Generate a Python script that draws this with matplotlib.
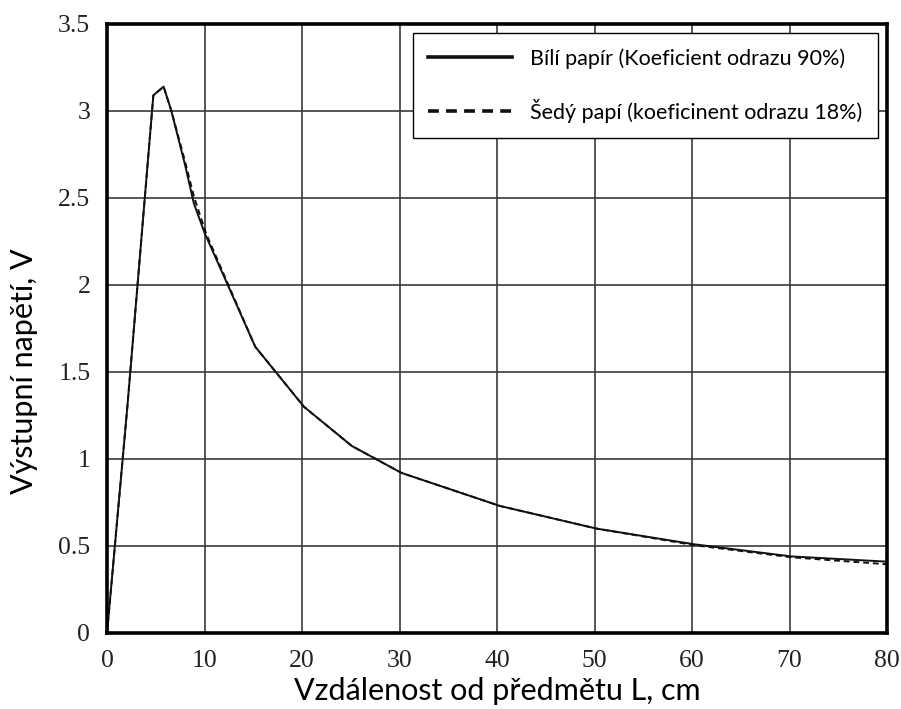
import matplotlib
import matplotlib.pyplot as plt

matplotlib.use("Agg")

# Reflective sensor output voltage vs. distance to the object
DIST_WHITE = [0, 2.1, 4.75, 5.8, 6.6, 8.0, 8.9, 10, 15.2, 20.2, 25.1, 30.2, 40.3, 50.2, 60.2, 70.2, 80]
VOLT_WHITE = [0.0, 1.31, 3.09, 3.14, 3.0, 2.69, 2.47, 2.30, 1.645, 1.30, 1.075, 0.92, 0.73, 0.60, 0.51, 0.44, 0.41]

DIST_GREY = [0, 2.1, 4.75, 5.8, 6.6, 8.0, 8.9, 9.6, 10.2, 15.2, 20.2, 25.1, 30.2, 40.3, 50.2, 60.2, 70.2, 80]
VOLT_GREY = [0.0, 1.31, 3.09, 3.14, 3.0, 2.71, 2.51, 2.39, 2.29, 1.645, 1.30, 1.075, 0.92, 0.73, 0.60, 0.505, 0.435, 0.395]

LABEL_WHITE = "Bílí papír (Koeficient odrazu 90%)"
LABEL_GREY = "Šedý papí (koeficinent odrazu 18%)"

X_TICKS = [0, 10, 20, 30, 40, 50, 60, 70, 80]
Y_TICKS = [0, 0.5, 1, 1.5, 2, 2.5, 3, 3.5]
Y_TICK_LABELS = ["0", "0.5", "1", "1.5", "2", "2.5", "3", "3.5"]

SANS = ["Lato", "DejaVu Sans"]
SERIF = ["Liberation Serif", "DejaVu Serif"]

fig = plt.figure(figsize=(9.01, 7.09), dpi=100)
ax = fig.add_axes([0.1188, 0.1072, 0.8657, 0.8590])

ax.plot(DIST_WHITE, VOLT_WHITE, color="#111111", lw=1.4, label=LABEL_WHITE)
ax.plot(DIST_GREY, VOLT_GREY, color="#111111", lw=1.4, ls=(0, (3, 2)), label=LABEL_GREY)

ax.set_xlim(0, 80)
ax.set_ylim(0, 3.5)
ax.set_xticks(X_TICKS)
ax.set_yticks(Y_TICKS)
ax.set_yticklabels(Y_TICK_LABELS)
ax.grid(True, color="#3a3a3a", lw=1.2)
ax.tick_params(length=0, pad=12, labelsize=18.5)
for lbl in ax.get_xticklabels() + ax.get_yticklabels():
    lbl.set_family(SERIF)
    lbl.set_color("#222222")
for sp in ax.spines.values():
    sp.set_linewidth(2.6)
    sp.set_color("black")

ax.set_xlabel("Vzdálenost od předmětu L, cm", family=SANS, fontsize=22, labelpad=4)
ax.set_ylabel("Výstupní napětí, V", family=SANS, fontsize=22)
ax.yaxis.set_label_coords(-0.088, 0.43)

leg = ax.legend(
    loc="upper right",
    bbox_to_anchor=(0.988, 0.985),
    prop={"family": SANS, "size": 15.5},
    fancybox=False,
    framealpha=1,
    edgecolor="black",
    handlelength=3.9,
    handletextpad=0.85,
    labelspacing=1.4,
    borderpad=0.7,
    borderaxespad=0,
)
leg.get_frame().set_linewidth(1.0)
for line in leg.get_lines():
    line.set_linewidth(2.6)

fig.savefig("out.png", dpi=100)
